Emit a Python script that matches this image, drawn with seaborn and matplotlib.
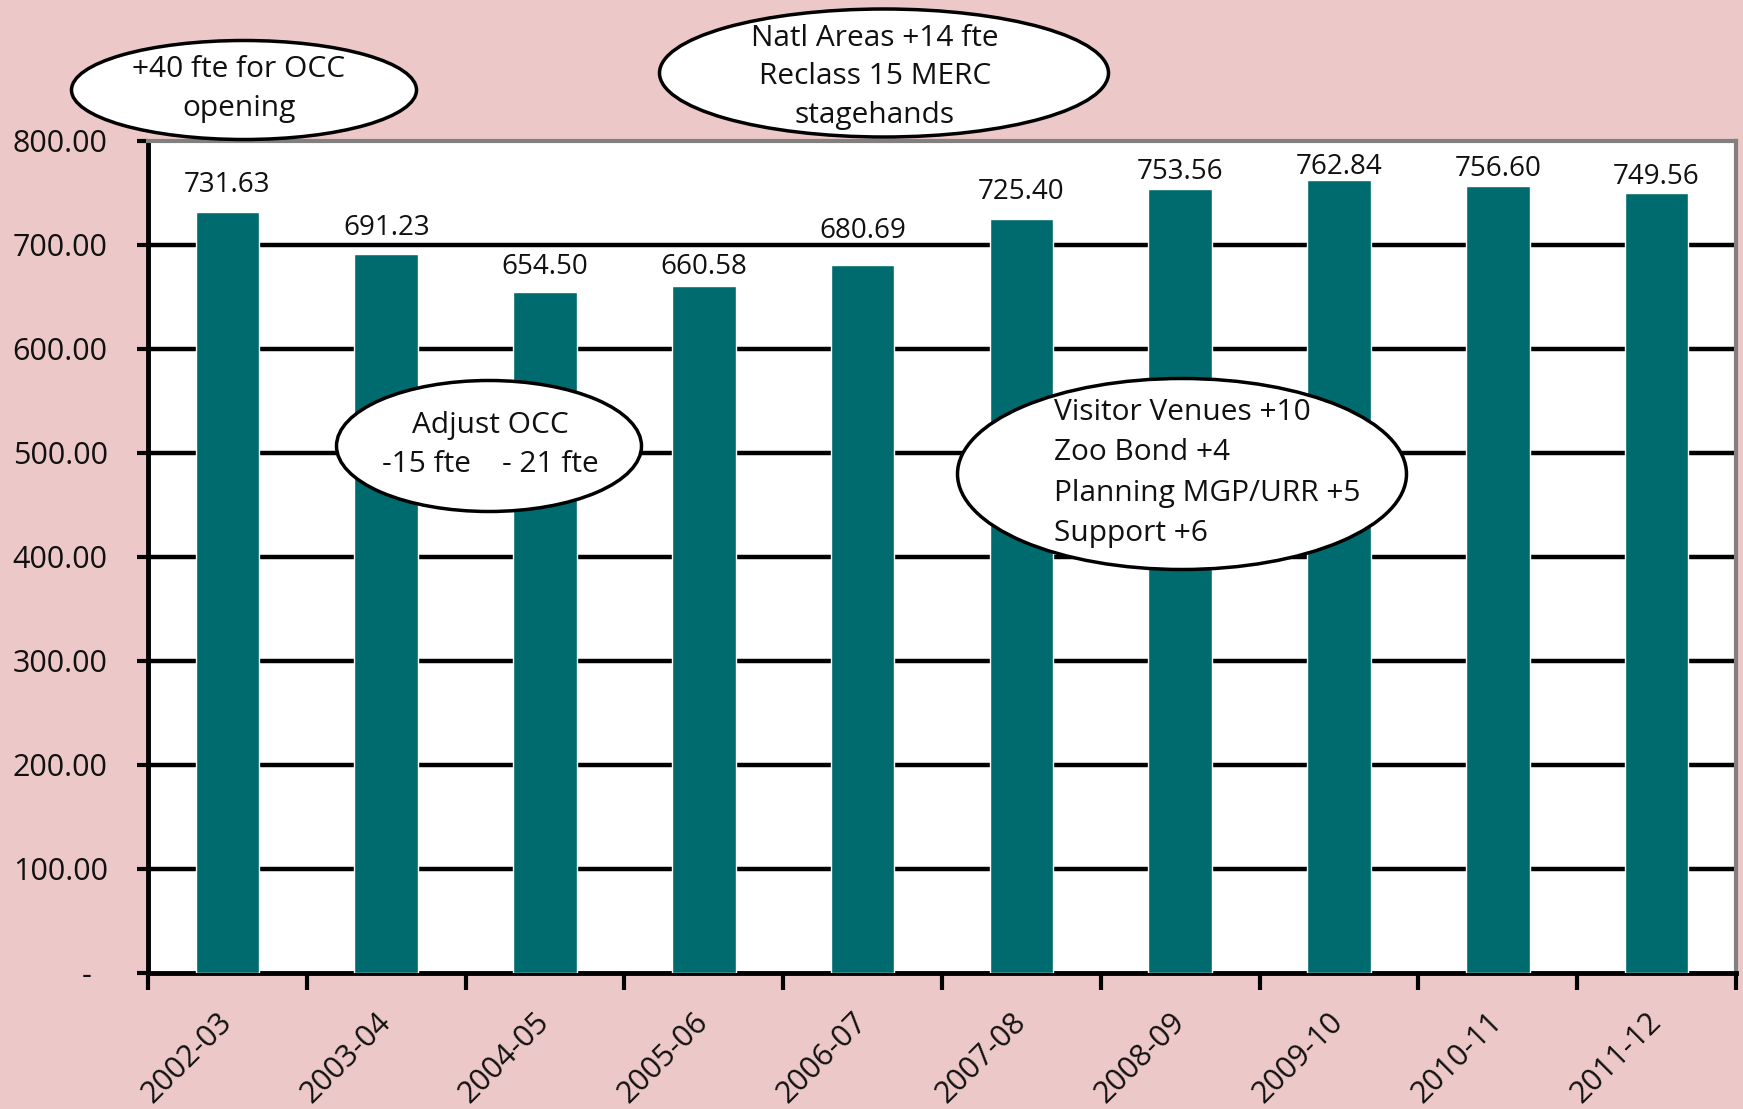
import matplotlib
matplotlib.use("Agg")
import matplotlib.pyplot as plt
import matplotlib.ticker as mticker
from matplotlib.patches import Ellipse
import seaborn as sns
import pandas as pd

# ---- data ----
years = ["2002-03", "2003-04", "2004-05", "2005-06", "2006-07",
         "2007-08", "2008-09", "2009-10", "2010-11", "2011-12"]
fte = [731.63, 691.23, 654.50, 660.58, 680.69, 725.40, 753.56, 762.84, 756.60, 749.56]
y_ticks = [0, 100, 200, 300, 400, 500, 600, 700, 800]
note_occ = "+40 fte for OCC\nopening"
note_natl = "Natl Areas +14 fte\nReclass 15 MERC\nstagehands"
note_adjust = "Adjust OCC\n-15 fte    - 21 fte"
note_visitor = "Visitor Venues +10\nZoo Bond +4\nPlanning MGP/URR +5\nSupport +6"

# ---- style ----
BG = "#EDC8C8"
BAR = "#006B6E"
W, H = 1743, 1109
label_offsets_px = [27, 26, 25, 19, 34, 27, 17, 13, 17, 16]

sns.set_theme(style="white")
plt.rcParams["font.family"] = ["Open Sans", "DejaVu Sans"]

fig = plt.figure(figsize=(W / 100, H / 100), dpi=100, facecolor=BG)
left, right, top, bottom = 148, 1736, 141, 973
ax = fig.add_axes([left / W, 1 - bottom / H, (right - left) / W, (bottom - top) / H])
ax.set_facecolor("white")

df = pd.DataFrame({"year": years, "fte": fte})
sns.barplot(data=df, x="year", y="fte", color=BAR, saturation=1, width=0.40,
            ax=ax, zorder=3)
ax.set_xlim(-0.5, len(years) - 0.5)
ax.set_ylim(0, 800)
ax.set_xlabel("")
ax.set_ylabel("")

# gridlines
for t in y_ticks[1:-1]:
    ax.axhline(t, color="black", lw=3.2, zorder=1)

# spines
for s in ["left", "bottom"]:
    ax.spines[s].set_color("black")
    ax.spines[s].set_linewidth(3.5)
for s in ["top", "right"]:
    ax.spines[s].set_color("#808080")
    ax.spines[s].set_linewidth(3)

# y ticks
ax.set_yticks(y_ticks)
ax.yaxis.set_major_formatter(mticker.FuncFormatter(
    lambda v, p: "-  " if v == 0 else f"{v:.2f}"))
ax.tick_params(axis="y", direction="out", length=8, width=3, color="black",
               labelsize=22, pad=21, left=True, labelcolor="#111111")

# x ticks: labels at centers, tick marks at boundaries
ax.set_xticks(range(len(years)))
ax.set_xticklabels(years, rotation=45, ha="right", va="center",
                   rotation_mode="anchor")
ax.tick_params(axis="x", which="major", length=0, labelsize=22, pad=32,
               labelcolor="#111111")
ax.set_xticks([i - 0.5 for i in range(len(years) + 1)], minor=True)
ax.tick_params(axis="x", which="minor", direction="out", length=12, width=3,
               color="black", bottom=True)

# bar value labels
for i, (v, off) in enumerate(zip(fte, label_offsets_px)):
    ax.annotate(f"{v:.2f}", (i, v), xytext=(0, off), textcoords="offset pixels",
                ha="center", va="center", fontsize=20, color="#111111", zorder=5)

# ellipse callouts (figure pixel coords)
def callout(cx, cy, w, h, text, tx, ty, ha="center", ls=1.42):
    e = Ellipse((cx / W, 1 - cy / H), w / W, h / H, transform=fig.transFigure,
                facecolor="white", edgecolor="black", lw=2.5, zorder=10)
    fig.add_artist(e)
    fig.text(tx / W, 1 - ty / H, text, ha=ha, va="center", fontsize=21.5,
             linespacing=ls, zorder=11, color="#111111")

callout(244, 90, 345, 99, note_occ, 239, 89)
callout(884, 73, 449, 128, note_natl, 875, 77)
callout(489, 446, 305, 131, note_adjust, 490, 445)
callout(1182, 474, 449, 191, note_visitor, 1054, 473, ha="left", ls=1.52)

fig.savefig("out.png", dpi=100, facecolor=BG)
